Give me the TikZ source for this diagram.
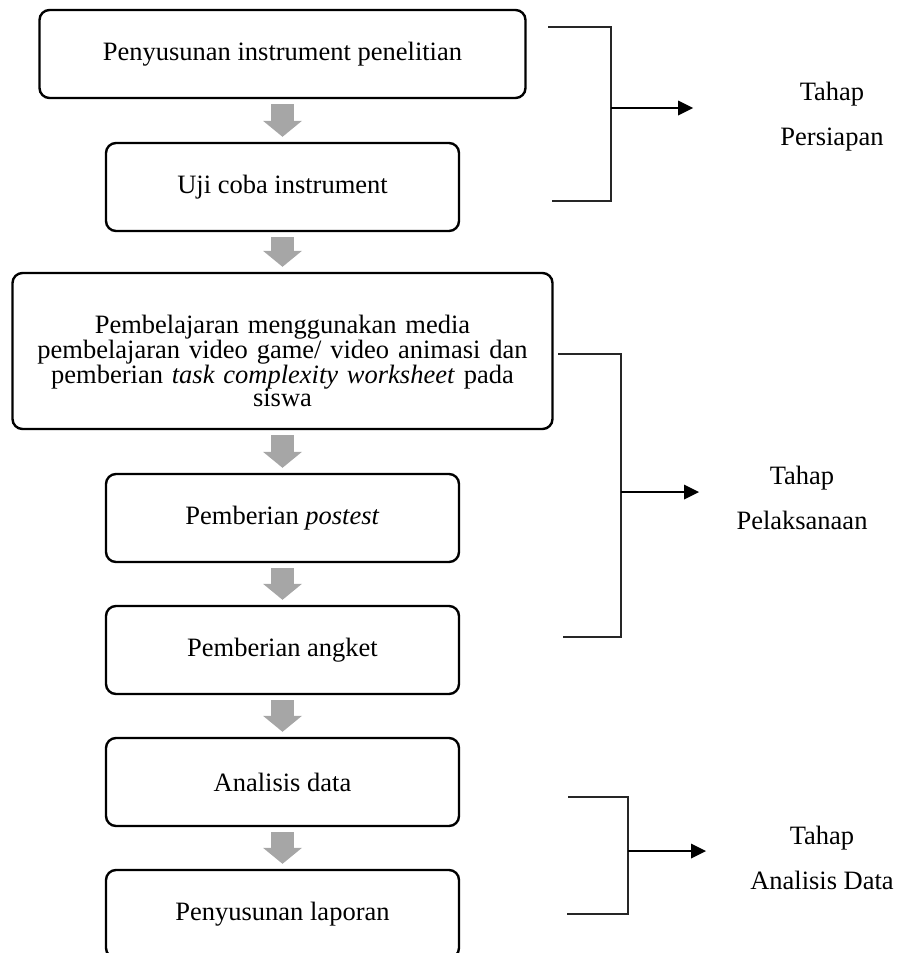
\documentclass[tikz,border=0pt]{standalone}
\usepackage{fontspec}
\setmainfont{Liberation Serif}
\usetikzlibrary{arrows.meta}
\definecolor{flowgray}{RGB}{166,166,166}

\begin{document}
\begin{tikzpicture}[
  x=1pt, y=-1pt,
  stepbox/.style={draw, line width=2.4pt, rounded corners=10pt, minimum height=88pt,
    inner sep=4pt, align=center, font=\fontsize{26.5}{23.5}\selectfont},
  narrow/.style={stepbox, minimum width=353pt},
  flow/.style={-{Triangle[length=16pt, width=39pt, line width=0pt]}, line width=23pt, flowgray},
  brk/.style={line width=1.3pt, black!85},
  tip/.style={-{Triangle[length=15pt, width=15pt, line width=0pt]}, line width=1.3pt},
  phase/.style={align=center, font=\fontsize{26.5}{45}\selectfont},
]
\useasboundingbox (0,0) rectangle (897,953);

% --- steps (left) ---
\node[stepbox, minimum width=486pt] (prep) at (282.5,54) {Penyusunan instrument penelitian};
\node[narrow] (trial) at (282.5,187) {Uji coba instrument};
\node[stepbox, minimum width=540pt, minimum height=156pt, text width=520pt] (learn) at (282.5,351)
  {\rule{0pt}{38pt}Pembelajaran menggunakan media\\pembelajaran video game/ video animasi dan\\pemberian \textit{task complexity worksheet} pada\\siswa};
\node[narrow] (post) at (282.5,518) {Pemberian \textit{postest}};
\node[narrow] (survey) at (282.5,650) {Pemberian angket};
\node[narrow] (anal) at (282.5,782) {Analisis data};
\node[narrow] (report) at (282.5,914) {Penyusunan laporan};

\foreach \a/\b in {prep/trial, trial/learn, learn/post, post/survey, survey/anal, anal/report}
  \draw[flow] ([yshift=-5pt]\a.south) -- ([yshift=5pt]\b.north);

% --- Tahap Persiapan ---
\draw[brk] (548,27) -- (611,27) -- (611,201) -- (552,201);
\coordinate (prepmid) at (611,108);
\coordinate (prepend) at (693,108);
\draw[tip] (prepmid) -- (prepend);
\node[phase] (prepl) at (832,117) {Tahap\\Persiapan};

% --- Tahap Pelaksanaan ---
\draw[brk] (558,354) -- (621,354) -- (621,637) -- (563,637);
\coordinate (runmid) at (621,492);
\coordinate (runend) at (699,492);
\draw[tip] (runmid) -- (runend);
\node[phase] (runl) at (802,498) {Tahap\\Pelaksanaan};

% --- Tahap Analisis Data ---
\draw[brk] (568,797) -- (628,797) -- (628,914) -- (567,914);
\coordinate (analmid) at (628,851);
\coordinate (analend) at (706,851);
\draw[tip] (analmid) -- (analend);
\node[phase] (anall) at (822,858) {Tahap\\Analisis Data};

\end{tikzpicture}
\end{document}
